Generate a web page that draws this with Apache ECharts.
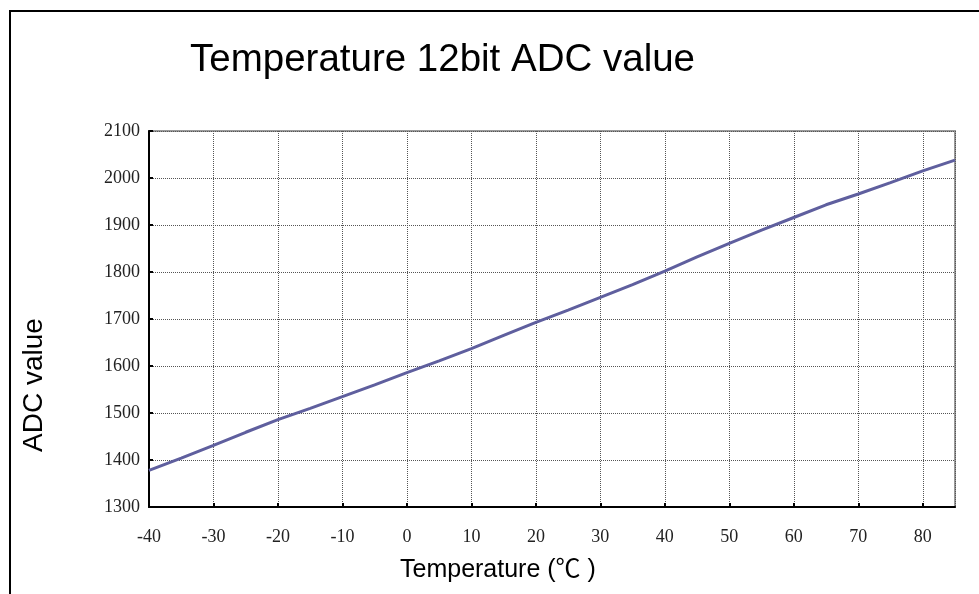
<!DOCTYPE html>
<html>
<head>
<meta charset="utf-8">
<script src="https://cdn.jsdelivr.net/npm/echarts@6/dist/echarts.min.js"></script>
<style>
  html, body { margin: 0; padding: 0; background: #fff; }
  #main { width: 979px; height: 594px; }
</style>
</head>
<body>
<div id="main"></div>
<script>
// temperature (deg C) and the 12bit ADC reading
var temps = [-40, -35, -30, -25, -20, -15, -10, -5, 0, 5, 10, 15, 20, 25, 30, 35, 40, 45, 50, 55, 60, 65, 70, 75, 80, 85];
var adcValues = [1378, 1404, 1431, 1459, 1486, 1510, 1535, 1560, 1586, 1611, 1637, 1665, 1693, 1719, 1746, 1773, 1802, 1832, 1861, 1889, 1916, 1943, 1966, 1990, 2015, 2038];

var titleText = 'Temperature 12bit ADC value';
var xName = 'Temperature (\u2103 )';
var yName = 'ADC value';

var seriesData = temps.map(function (t, i) { return [t, adcValues[i]]; });

var myChart = echarts.init(document.getElementById('main'));

var option = {
  animation: false,
  title: {
    text: titleText,
    left: 185,
    top: 36,
    textStyle: { fontFamily: 'Liberation Sans', fontSize: 38.5, fontWeight: 'normal', color: '#000' }
  },
  grid: {
    left: 149, right: 24, top: 131, bottom: 87,
    show: true, borderColor: '#999', borderWidth: 2
  },
  xAxis: {
    type: 'value',
    min: -40, max: 85, interval: 10,
    axisLine: { onZero: false, lineStyle: { color: '#000', width: 2 } },
    axisTick: { inside: true, length: 4, lineStyle: { color: '#000', width: 2 } },
    axisLabel: {
      showMaxLabel: false, margin: 21,
      fontFamily: 'Liberation Serif', fontSize: 18, color: '#222'
    },
    splitLine: { show: true, lineStyle: { color: '#555', type: 'dotted', width: 1 } }
  },
  yAxis: {
    type: 'value',
    min: 1300, max: 2100, interval: 100,
    axisLine: { show: true, onZero: false, lineStyle: { color: '#000', width: 2 } },
    axisTick: { show: true, inside: true, length: 4, lineStyle: { color: '#000', width: 2 } },
    axisLabel: {
      margin: 9, fontFamily: 'Liberation Serif', fontSize: 18, color: '#222',
      formatter: function (v) { return String(v); }
    },
    splitLine: { show: true, lineStyle: { color: '#555', type: 'dotted', width: 1 } }
  },
  graphic: [
    {
      type: 'rect', silent: true,
      shape: { x: 10, y: 11, width: 1200, height: 1200 },
      style: { fill: 'none', stroke: '#000', lineWidth: 2 }
    },
    {
      type: 'text', left: 400, top: 558,
      style: { text: xName, fontFamily: "'Liberation Sans', 'Noto Sans CJK TC'", fontSize: 25, fill: '#000' }
    },
    {
      type: 'text', x: 20, y: 452, rotation: Math.PI / 2,
      style: { text: yName, fontFamily: 'Liberation Sans', fontSize: 28, fill: '#000' }
    }
  ],
  series: [{
    type: 'line',
    data: seriesData,
    showSymbol: false,
    lineStyle: { color: '#5f5f9e', width: 3 }
  }]
};

myChart.setOption(option);
</script>
</body>
</html>
